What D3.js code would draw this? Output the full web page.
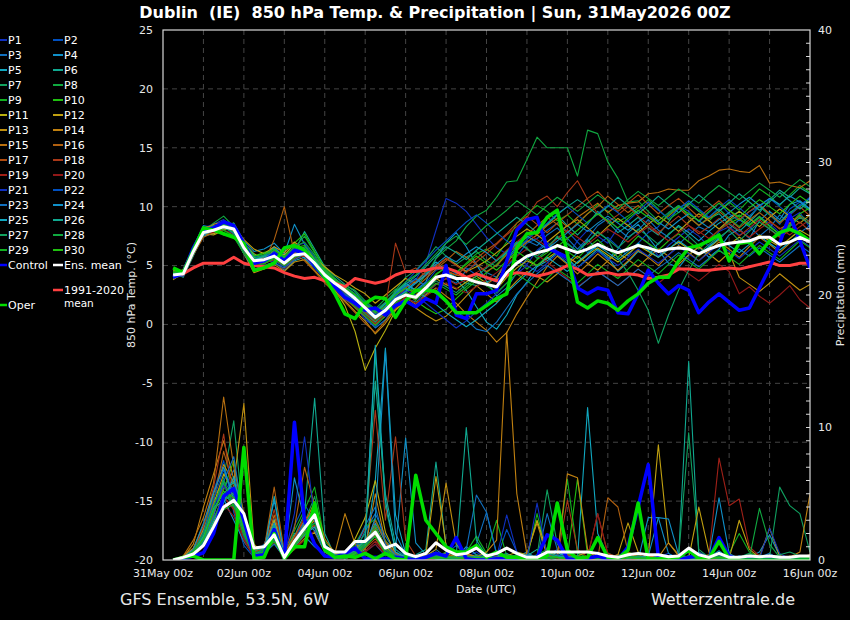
<!DOCTYPE html>
<html>
<head>
<meta charset="utf-8">
<script src="https://cdn.jsdelivr.net/npm/d3@7"></script>
<style>
  body { margin: 0; background: #000; }
  svg { display: block; font-family: "DejaVu Sans", sans-serif; }
</style>
</head>
<body>
<div id="chart"></div>
<script>
// forecast steps in hours after 31May2026 00Z (6-hourly, +6h .. +384h)
const hours = d3.range(6, 385, 6)
const xTickHours = [0, 48, 96, 144, 192, 240, 288, 336, 384]
const xTickLabels = ['31May 00z', '02Jun 00z', '04Jun 00z', '06Jun 00z', '08Jun 00z', '10Jun 00z', '12Jun 00z', '14Jun 00z', '16Jun 00z']
const tempTicks = [-20, -15, -10, -5, 0, 5, 10, 15, 20, 25]
const precipTicks = [0, 10, 20, 30, 40]

const memberNames = d3.range(1, 31).map(i => 'P' + i)
const memberColors = ['#1030c0', '#0050c0', '#1070c0', '#1090c8', '#10a8c0', '#10a890', '#10a060', '#10a840', '#10b020', '#20c010',
                      '#b8b010', '#c0a010', '#c09010', '#c08010', '#b87010', '#b06010', '#b04c10', '#a83818', '#a02018', '#901818']

const meanTemp = [4.2,4.3,6.2,7.8,8.0,8.3,8.1,6.5, 5.4,5.5,5.8,5.2,5.9,6.0,5.2,4.2, 3.5,2.9,2.2,1.4,0.6,1.2,2.1,2.5, 2.3,3.1,4.0,4.2,3.9,3.9,3.6,3.4,
                  3.2,4.4,5.2,5.8,6.1,6.3,6.7,6.4, 6.1,6.4,6.8,6.4,6.1,6.4,6.7,6.5, 6.2,6.4,6.5,6.4,6.0,6.4,6.7,6.9, 7.0,7.1,7.4,7.4,6.8,7.0,7.4,7.0]
const climTemp = [4.1,4.3,4.8,5.2,5.2,5.2,5.7,5.2, 5.0,4.9,4.8,4.4,4.1,3.9,4.0,3.7, 3.5,3.2,3.9,3.7,3.5,3.7,4.2,4.5, 4.5,4.6,4.8,4.8,4.5,4.0,4.3,4.0,
                  3.7,4.2,4.4,4.3,4.1,4.3,4.6,5.0, 4.7,4.2,4.3,4.4,4.2,4.3,4.2,3.9, 4.0,4.2,4.7,4.7,4.6,4.6,4.7,4.8, 4.7,4.9,5.1,5.3,5.0,5.0,5.2,5.2]
const controlTemp = [4.0,4.4,6.5,8.0,8.2,8.7,8.4,6.9, 5.2,5.4,6.0,5.4,6.3,6.1,5.0,4.0, 3.2,2.3,1.8,1.2,1.4,0.8,1.6,2.0, 1.5,2.2,1.8,5.0,0.8,0.5,2.6,2.6,
                     2.9,5.4,8.0,8.9,9.1,6.5,6.1,5.7, 3.1,2.6,3.1,2.9,1.0,0.9,2.6,4.6, 3.5,2.6,3.3,2.9,1.0,1.9,2.6,1.9, 1.2,1.4,3.1,4.8,6.9,9.3,7.1,4.8]
const operTemp = [4.8,4.4,6.3,8.2,8.0,7.7,7.4,6.9, 4.6,4.8,5.2,6.5,6.7,6.3,5.2,4.0, 2.6,0.9,0.5,1.8,2.3,2.2,0.6,2.0, 2.9,2.9,2.8,2.0,1.0,1.0,1.0,1.6,
                  2.2,2.6,6.5,7.7,7.8,9.1,9.7,6.0, 1.9,1.4,2.0,1.8,1.2,2.0,2.6,3.5, 4.0,4.0,5.4,6.5,6.7,7.1,7.6,5.4, 6.9,7.0,6.0,7.1,7.8,8.1,7.7,7.1]

const meanPrecip = [0,0.2,0.45,1.1,2.5,4.0,4.5,3.5, 0.9,1.0,1.9,0.2,1.4,2.4,3.4,1.0, 0.6,0.6,1.4,1.4,2.1,0.9,1.2,0.5, 0.25,0.5,1.3,0.75,0.4,0.5,0.9,0.3,
                    0.5,0.9,0.5,0.2,0.2,0.6,0.6,0.6, 0.6,0.6,0.5,0.3,0.2,0.4,0.5,0.4, 0.4,0.25,0.3,0.9,0.4,0.2,0.5,0.2, 0.2,0.3,0.25,0.3,0.2,0.2,0.3,0.3]
const controlPrecip = [0,0.1,0.3,0.55,2.0,4.8,5.4,3.0, 0.3,0.4,2.3,0.1,10.4,3.0,1.2,0.3, 0.2,0.5,0.9,0.1,0.2,0.1,0.2,0.1, 0,0.2,0.5,0.3,1.7,0.1,0,0,
                       0.1,0.1,0,0.1,0.2,1.9,1.5,0.1, 0,0.1,0.3,0.1,0,1.0,4.0,7.2, 0.2,0,0,0.2,0.3,0.1,1.7,0.3, 0,0.1,0,0.1,0,0.1,0,0]
const operPrecip = [0,0.2,0.3,0,0,0,0,8.5, 0.1,0.2,2.0,0.1,1.0,1.0,4.3,0.75, 0.2,0.3,0.2,0.5,0.1,0.5,0.1,0, 6.4,3.0,2.0,1.0,0.6,0.6,1.1,0.2,
                    0.6,0.2,0.2,0,0.1,0.3,4.3,0.75, 0.1,0.2,1.7,0.2,0.1,0.75,4.3,0, 0.1,0.1,0.2,0.75,0.1,0.1,1.4,0.1, 0,0,0,0,0,0,0,0]

// 850 hPa temperature of the 30 perturbed members (P1..P30)
const memberTemp = [
  [4.0,4.5,6.4,8.2,8.5,8.9,8.3,6.2, 5.0,5.4,6.1,5.5,6.4,6.2,5.0,4.0, 3.0,2.1,1.6,0.4,-0.2,0.8,2.4,3.5, 3.8,5.2,8.0,10.7,10.3,9.6,8.5,7.4, 6.5,6.0,5.4,5.1,6.3,7.0,6.2,5.8, 7.1,8.0,7.5,6.9,8.2,8.8,7.6,6.9, 5.8,6.7,7.4,8.1,7.5,6.6,7.9,8.3, 7.6,8.0,9.1,8.6,7.8,9.0,9.5,8.2],
  [4.3,4.1,5.9,7.6,7.9,8.0,8.4,6.9, 5.8,5.3,5.4,4.9,5.6,6.5,5.6,4.6, 3.9,3.2,2.6,1.9,1.2,1.9,2.6,3.0, 2.8,3.5,4.6,4.9,4.3,4.8,4.2,3.9, 3.6,4.9,5.8,6.9,7.3,8.0,8.6,7.9, 7.0,6.1,6.8,7.4,6.6,5.8,6.9,7.8, 8.3,9.4,10.1,9.6,8.7,9.5,10.3,9.4, 8.8,9.6,10.0,9.3,8.5,9.8,10.4,9.6],
  [4.5,4.6,6.6,8.4,8.2,8.6,7.9,6.0, 4.8,5.9,6.6,5.7,6.3,5.6,4.8,3.9, 3.2,2.4,1.5,0.6,-0.3,0.4,1.6,2.2, 1.9,2.6,3.4,3.9,3.5,4.6,5.1,4.4, 4.0,5.4,6.5,7.1,6.7,7.6,8.2,7.3, 6.4,7.3,8.4,9.0,8.1,7.4,8.0,8.9, 8.0,7.4,6.8,7.6,8.3,7.9,7.2,8.1, 8.9,8.3,7.5,8.2,9.3,8.6,7.8,8.4],
  [3.9,4.2,6.0,7.5,7.7,8.1,8.6,7.1, 6.2,6.4,6.9,6.0,8.5,6.8,5.5,4.4, 3.6,2.7,1.8,1.0,0.2,1.3,2.6,3.3, 2.9,3.6,5.6,6.9,7.8,6.6,5.1,3.7, 2.4,3.1,4.4,5.6,6.2,6.8,5.9,5.2, 6.1,7.2,6.3,5.5,6.4,7.8,8.5,7.4, 6.3,5.2,4.8,5.9,6.6,5.7,6.4,7.6, 8.1,7.3,8.8,9.6,8.9,10.2,10.5,9.8],
  [4.1,4.4,6.3,7.9,8.3,8.4,7.8,6.3, 5.3,5.0,5.3,4.6,5.4,5.7,4.9,3.8, 3.1,2.3,1.9,1.2,0.3,0.9,1.8,2.9, 3.6,4.4,5.3,4.6,3.8,2.9,1.5,0.2, -0.4,0.8,2.5,3.6,4.9,5.4,6.1,5.6, 4.8,5.6,6.4,5.7,4.5,5.3,6.2,5.8, 6.9,7.6,8.4,7.8,7.1,7.9,8.6,9.1, 9.6,9.0,10.1,9.4,8.7,9.5,10.0,10.7],
  [4.4,4.0,5.8,7.7,8.2,8.1,8.0,6.7, 5.7,5.2,5.6,5.0,6.2,7.9,6.4,4.9, 4.1,3.4,2.8,1.7,1.1,1.8,2.3,2.7, 2.1,2.9,3.8,4.5,4.0,3.5,3.3,3.6, 3.9,5.5,6.7,7.4,7.9,8.5,9.3,8.4, 7.6,8.5,9.6,8.7,7.8,8.4,9.1,8.2, 7.6,8.7,9.9,10.3,9.6,9.0,9.4,8.5, 7.9,8.7,9.5,10.6,11.4,10.8,11.6,11.1],
  [4.0,4.4,6.5,8.1,7.8,8.3,8.5,6.8, 5.9,5.6,5.9,5.3,6.0,6.6,5.8,4.5, 3.7,3.0,2.4,1.6,0.9,1.5,2.9,4.0, 4.6,5.5,6.6,5.8,5.1,5.7,6.2,5.4, 4.9,6.2,7.0,6.5,5.6,6.3,7.5,6.9, 6.2,7.0,7.9,7.2,6.5,7.3,8.1,7.5, 6.8,7.7,8.3,7.5,6.7,7.2,8.0,8.8, 9.3,8.5,9.2,8.4,7.6,8.4,9.3,8.7],
  [4.2,4.3,6.1,7.9,8.6,9.2,8.3,6.4, 5.5,5.8,6.2,5.6,6.5,7.5,6.1,4.7, 3.8,3.3,2.9,2.0,1.3,2.2,3.0,2.8, 3.1,4.2,5.6,6.4,7.1,8.3,9.2,9.7, 10.8,12.1,12.2,14.0,15.9,15.0,15.0,15.0, 12.6,16.5,16.2,13.8,12.4,10.4,10.5,9.6, 8.8,9.5,10.1,9.2,8.4,9.1,9.8,9.0, 8.3,9.2,10.0,9.3,8.6,9.4,10.2,9.7],
  [4.6,4.2,6.0,7.6,8.1,7.6,7.4,6.1, 4.6,5.1,5.7,5.3,6.6,5.9,5.1,4.3, 3.3,2.5,1.7,0.9,0.0,1.0,2.0,2.6, 2.4,3.3,4.3,4.8,4.4,5.2,6.0,6.4, 5.8,7.0,8.6,9.4,10.1,9.6,8.8,9.3, 8.5,9.4,10.2,9.6,8.7,9.2,9.9,10.6, 9.8,8.9,9.5,10.3,9.7,8.8,9.6,10.4, 9.7,10.6,11.5,10.9,10.1,11.0,11.8,11.2],
  [4.3,4.5,6.4,7.9,8.3,8.0,7.6,6.6, 5.8,6.1,6.4,5.8,6.9,7.7,6.2,4.8, 3.9,3.1,2.2,1.4,0.4,1.2,2.1,2.8, 2.0,1.4,0.9,1.3,2.2,3.0,3.7,4.4, 5.1,6.0,5.4,4.7,5.5,6.1,6.8,6.2, 5.6,6.5,7.2,6.4,5.7,6.6,7.5,6.9, 6.3,7.1,7.7,7.0,6.4,7.2,8.0,8.6, 9.0,8.4,9.1,8.3,7.7,8.5,9.4,9.9],
  [4.1,4.7,6.6,8.0,7.7,8.1,8.2,6.9, 6.0,5.5,6.3,5.9,6.8,6.4,5.2,4.0, 2.9,1.6,-0.6,-3.9,-2.0,-0.5,1.2,2.0, 2.5,3.2,3.9,3.4,3.0,3.6,4.1,3.5, 3.0,4.0,4.8,5.4,5.0,5.6,6.2,5.7, 5.2,5.9,6.5,5.9,5.3,6.0,6.7,6.2, 5.7,6.4,7.0,6.4,5.8,6.5,7.2,6.8, 7.4,6.9,7.6,7.1,6.6,7.3,8.0,7.5],
  [4.5,4.2,6.1,7.7,7.6,8.0,8.3,7.2, 6.4,6.0,6.6,6.1,7.0,6.3,5.6,4.9, 4.2,3.7,3.1,2.6,1.8,2.5,3.2,3.9, 3.5,4.2,4.9,5.6,5.1,4.5,4.9,5.4, 6.1,6.8,7.5,8.1,7.6,7.0,7.7,8.4, 8.9,8.2,7.5,8.3,9.0,8.4,7.8,8.5, 9.2,8.6,7.9,8.7,9.4,8.8,8.1,8.9, 9.6,9.0,8.3,9.1,9.8,9.2,8.6,9.3],
  [3.8,4.4,6.2,7.8,8.5,8.7,7.9,6.0, 4.4,4.7,5.1,4.5,5.3,5.5,4.6,3.7, 2.8,2.0,1.1,0.3,-0.8,0.1,1.3,2.0, 1.4,0.8,0.3,0.7,1.5,2.4,3.3,2.6, 1.9,2.8,3.7,4.5,4.1,3.6,4.3,5.1, 5.8,5.2,4.6,5.4,6.1,5.5,4.9,5.7, 6.4,5.8,5.1,5.9,6.6,6.0,5.3,6.1, 4.0,3.4,2.8,3.5,4.3,3.6,2.9,3.4],
  [4.6,4.5,6.4,8.2,8.4,8.5,8.4,6.6, 5.4,5.7,6.0,5.4,6.1,6.3,5.4,4.2, 3.4,2.7,1.9,1.1,0.1,0.7,1.6,2.3, 1.7,2.5,3.1,2.4,1.8,0.9,0.2,-0.5, -1.5,-0.7,0.9,2.3,3.6,4.9,5.8,5.1, 4.3,5.1,6.0,5.3,4.6,5.4,6.3,5.7, 5.0,5.9,6.7,6.1,5.4,6.2,7.0,6.4, 5.7,6.6,7.4,6.8,6.1,6.9,7.7,7.1],
  [4.0,4.3,6.0,7.6,7.9,8.2,8.0,6.4, 5.1,5.6,5.9,5.1,5.8,6.1,5.3,4.1, 3.4,2.8,2.1,1.3,0.5,1.1,2.0,2.6, 2.2,3.0,3.8,4.5,4.2,4.0,3.7,3.4, 4.0,5.2,6.3,7.0,7.6,8.4,9.0,8.3, 9.1,9.7,10.3,9.5,10.1,10.3,10.4,11.1, 11.2,11.5,11.4,11.4,12.2,12.6,13.1,13.2, 13.0,12.9,13.5,12.0,12.1,11.8,11.6,12.2],
  [4.4,4.1,5.9,7.4,7.8,8.3,8.1,6.1, 4.9,5.3,7.2,10.0,6.0,5.4,4.5,3.5, 2.7,1.9,1.0,0.1,-0.7,0.3,1.4,2.4, 3.1,3.9,4.7,5.4,6.2,5.7,5.1,4.5, 5.0,5.9,6.8,7.6,8.4,9.1,8.5,7.8, 8.6,9.4,10.0,10.9,10.2,9.5,10.1,9.3, 8.5,9.2,9.9,9.1,8.4,9.0,9.6,8.9, 8.2,8.9,9.5,8.8,8.1,8.6,9.2,8.5],
  [4.2,4.6,6.5,8.0,8.1,8.4,8.2,6.7, 5.6,5.4,5.7,5.0,5.8,5.8,4.9,3.9, 3.0,2.2,1.4,0.7,0.0,0.9,2.2,3.1, 3.7,4.5,5.1,4.6,4.2,4.9,5.6,6.3, 6.9,7.7,8.6,9.2,8.5,7.8,8.6,9.3, 10.0,10.7,11.3,10.4,9.6,10.3,11.0,10.2, 9.4,10.1,10.7,9.9,9.1,9.8,10.5,9.7, 8.9,9.6,10.2,9.4,8.6,9.3,10.0,9.2],
  [4.5,4.4,6.2,7.7,8.0,8.5,8.2,6.4, 5.4,5.2,5.5,5.0,5.6,6.2,5.3,4.1, 3.5,2.9,2.3,1.6,0.8,1.5,6.9,4.4, 4.8,4.1,4.9,5.6,5.0,4.4,5.3,6.0, 6.8,7.6,8.3,9.1,10.4,10.9,10.0,11.2, 12.2,10.6,9.4,8.7,9.3,10.0,9.2,8.5, 7.8,8.5,9.2,8.4,7.7,8.3,9.0,8.2, 7.5,8.2,8.9,8.1,7.4,8.0,8.7,7.9],
  [4.1,4.3,6.0,7.8,8.2,8.6,8.0,6.2, 5.0,5.5,5.8,5.3,6.0,5.8,5.0,4.0, 3.3,2.6,1.8,1.0,0.3,1.0,1.9,2.5, 2.1,2.7,3.4,3.9,3.4,3.8,4.4,4.9, 5.5,6.3,7.0,7.7,7.2,6.6,7.3,8.0, 7.4,6.8,7.5,8.1,7.6,7.0,7.7,8.3, 7.7,7.1,7.8,8.4,7.9,7.3,8.0,8.6, 8.0,7.4,8.1,8.7,8.2,7.6,8.3,8.9],
  [4.3,4.2,6.3,7.9,7.8,8.0,7.7,6.3, 5.2,5.0,5.2,4.7,5.5,5.9,5.1,4.0, 3.2,2.4,1.6,0.8,0.1,0.8,1.7,2.3, 1.8,2.4,3.0,3.5,3.1,2.7,3.2,3.8, 4.4,5.1,5.8,6.4,5.9,5.3,4.6,3.9, 3.2,3.8,4.5,3.9,3.3,4.0,4.7,4.1, 3.5,4.2,4.9,4.3,3.7,4.4,5.1,4.5, 2.6,3.2,2.4,1.8,2.5,3.3,2.1,1.4],
  [4.2,4.1,6.0,7.7,8.3,8.8,8.1,6.4, 5.3,5.6,6.2,5.5,6.7,6.9,5.7,4.4, 3.5,3.0,2.4,1.8,1.0,1.7,2.3,2.9, 2.5,1.8,1.1,0.4,-0.3,0.3,1.1,1.8, 2.6,3.5,4.3,5.0,4.5,5.2,6.0,5.4, 4.8,5.5,6.2,5.6,5.0,5.7,6.4,5.8, 5.2,5.9,6.6,6.0,5.4,6.1,6.8,6.2, 5.6,6.3,7.0,6.4,5.8,6.5,7.2,6.6],
  [4.0,4.2,6.1,7.8,8.1,8.2,8.4,6.8, 5.7,5.9,6.0,5.4,6.2,6.0,5.1,4.2, 3.3,2.6,2.0,1.5,0.8,1.4,2.6,3.6, 4.5,5.4,6.3,7.1,7.9,8.7,9.3,8.6, 7.8,7.1,6.4,7.2,7.9,8.6,9.4,10.0, 9.3,8.6,9.4,10.1,9.5,8.8,9.6,10.4, 9.7,9.0,9.8,10.5,9.8,9.1,9.9,10.6, 9.9,9.2,10.0,10.7,10.0,9.3,10.1,10.8],
  [4.3,4.6,6.4,8.1,8.3,8.3,7.7,6.0, 4.7,4.9,5.2,4.8,5.5,6.0,5.2,4.0, 3.1,2.5,2.0,1.2,0.5,1.2,2.4,3.2, 3.9,3.2,2.6,1.9,1.2,0.4,-0.4,-0.6, 0.2,1.4,2.6,3.5,4.3,5.0,4.4,3.8, 3.1,3.8,4.5,3.9,3.3,4.0,4.7,4.1, 4.8,5.4,6.1,5.5,4.9,5.6,6.3,5.7, 6.4,5.8,6.5,5.9,5.3,6.0,6.7,6.1],
  [4.4,4.3,6.2,7.6,8.0,8.4,8.0,6.5, 5.5,5.8,6.5,5.7,6.2,6.4,5.4,4.3, 3.4,2.8,2.1,1.3,0.6,1.3,2.2,2.8, 3.5,4.2,5.1,5.8,5.3,6.0,6.6,6.1, 5.4,6.1,6.9,7.5,7.0,6.4,7.1,7.8, 8.5,7.9,8.6,9.2,8.6,8.0,8.7,9.3, 8.7,8.1,8.8,9.4,8.8,8.2,8.9,9.5, 10.2,10.8,10.1,10.7,10.2,10.9,10.4,9.8],
  [4.2,4.5,6.4,8.0,8.2,8.7,8.2,6.7, 5.7,5.5,5.8,5.2,5.9,6.3,5.5,4.3, 3.6,3.0,2.4,1.7,1.0,1.8,2.8,3.5, 2.9,2.3,1.7,1.0,0.4,-0.2,0.4,1.1, 1.8,2.7,3.5,4.3,5.0,5.7,5.1,4.5, 5.3,6.0,6.7,6.1,5.5,6.2,6.9,6.3, 5.7,6.4,7.1,6.5,5.9,6.6,7.3,6.7, 6.1,6.8,7.5,6.9,6.3,7.0,7.7,7.1],
  [4.3,4.2,6.0,7.7,8.0,8.3,8.6,6.9, 5.9,5.7,6.1,5.4,6.4,6.1,5.3,4.4, 3.6,3.0,2.2,1.4,0.7,1.5,2.7,3.4, 4.1,4.9,5.8,6.6,6.1,5.5,6.3,7.0, 7.7,8.4,9.1,8.5,7.8,8.5,9.3,10.0, 10.6,10.0,9.3,10.0,10.8,10.1,9.4,10.1, 10.9,10.2,9.5,10.2,11.0,10.3,9.6,10.3, 11.1,10.4,9.7,10.4,11.2,10.5,9.8,10.5],
  [4.1,4.5,6.3,7.9,8.4,8.2,7.8,6.2, 5.1,5.3,5.7,5.1,5.8,6.2,5.2,4.1, 3.2,2.5,1.7,0.9,0.2,1.0,2.0,2.7, 2.3,3.0,3.7,3.2,2.7,3.4,4.1,4.8, 5.4,6.2,7.0,6.4,5.8,6.6,7.4,6.8, 6.2,7.0,7.8,7.2,5.6,4.4,2.9,1.2, -1.6,0.8,2.9,4.6,6.0,6.8,7.4,8.0, 7.1,7.9,8.7,8.1,7.5,8.3,9.1,8.5],
  [4.5,4.3,6.1,7.8,8.1,8.5,8.3,6.6, 5.6,5.9,6.3,5.8,6.6,7.0,5.9,4.6, 3.8,3.2,2.6,1.8,1.1,1.9,2.8,3.6, 4.2,5.1,6.0,6.9,7.5,6.8,7.6,8.4, 9.0,9.7,10.5,9.9,9.3,10.1,10.8,10.2, 9.6,10.3,11.0,10.4,9.8,10.6,11.3,10.7, 10.1,10.8,11.5,10.9,10.3,11.1,11.8,11.2, 10.6,11.3,12.0,11.4,10.8,11.6,12.3,11.7],
  [4.0,4.4,6.2,8.0,8.2,8.0,7.5,6.0, 4.9,5.2,5.6,5.0,5.7,6.0,5.0,3.9, 3.0,2.3,1.5,0.7,-0.1,0.7,1.8,2.5, 2.1,2.8,3.5,3.0,2.5,3.2,3.9,3.3, 2.7,3.5,4.3,3.7,3.1,3.9,4.7,4.1, 3.5,4.3,5.1,4.5,3.9,4.7,5.5,4.9, 4.3,5.1,5.9,5.3,4.7,5.5,6.3,5.7, 5.1,5.9,6.7,6.1,5.5,6.3,7.1,6.5],
  [4.4,4.6,6.5,8.3,8.0,8.4,8.6,6.8, 5.8,6.0,6.4,5.7,6.5,6.7,5.6,4.5, 3.7,3.1,2.5,1.7,1.0,1.6,2.5,3.1, 2.7,3.4,4.2,4.9,4.4,5.1,5.8,5.2, 4.6,5.4,6.2,5.6,5.0,5.8,6.6,7.3, 8.0,8.7,9.4,8.8,8.2,9.0,9.7,9.1, 8.5,9.3,10.0,9.4,8.8,9.6,10.3,9.7, 9.1,9.9,10.6,10.0,9.4,10.2,10.9,10.3]
]

// 6-hourly precipitation of the 30 perturbed members (mm)
const memberPrecip = [
  [0,0.1,0.4,1.2,3.5,6.0,4.8,2.0, 0.3,0.8,2.2,0.2,1.5,3.0,2.4,0.6, 0.3,0.1,0.8,1.6,2.5,0.9,0.4,0.2, 0,0.1,0.3,0.1,0,0.2,0.6,0.1, 0,0.2,0.1,0,0,0.3,0.8,0.2, 0,0,0.1,0.4,0.2,0,0.1,0, 0.2,0.5,0.1,0,0,0.3,0.1,0, 0,0.1,0,0,0.2,0.1,0,0],
  [0,0.2,0.6,2.0,5.2,7.5,3.6,1.1, 0.2,0.5,1.4,0.1,2.6,4.2,2.9,0.8, 0.2,0.4,1.5,0.6,1.2,0.3,0.8,0.3, 0.1,0,0,0.4,1.1,0.3,0,0, 0.1,2.3,0.6,0,0.1,0.2,0.4,0.1, 0,0.2,0.6,0.1,0,0,0.2,0.1, 0,0,0.3,0.8,0.2,0,0,0.1, 0.3,0.1,0,0,0,0.2,0.1,0],
  [0,0.1,0.5,1.8,4.5,5.4,6.8,2.5, 0.5,1.2,3.1,0.3,0.9,2.1,3.6,0.9, 0.4,0.2,0.6,2.2,3.5,1.8,0.6,0.1, 0,0.3,0.8,0.2,0.1,0.5,1.2,3.6, 0.4,0.1,0,0.2,0.1,3.5,0.8,0.1, 0,0.1,0.3,0.2,0.1,0.2,0.1,0, 0.3,0.1,0,0.2,0.6,0.2,0.1,0, 0,0,0.2,0.5,0.1,0,0.3,0.1],
  [0,0.2,0.8,2.4,3.8,4.6,3.0,1.4, 0.3,0.9,4.5,0.4,2.0,1.8,1.0,0.4, 0.1,0.3,0.4,1.1,2.8,1.4,0.8,9.2, 1.3,0.4,0.1,0,0.2,1.0,0.4,0.2, 0.1,0,0.2,0.6,0.1,0,0.3,0.5, 0.2,0,0.1,0.3,0.1,0,0,3.2, 3.2,0.5,0.1,0,0,0.2,0.7,0.1, 0,0.2,0.6,1.9,0.3,0,0,0.1],
  [0,0.1,0.3,1.0,2.6,4.4,5.1,3.2, 0.4,0.6,1.8,0.2,1.1,2.6,4.0,1.2, 0.5,0.2,0.3,0.8,6.0,16.0,3.4,0.5, 0.2,0.1,0.4,0.1,0,0.3,0.1,0, 0.2,0.5,0.1,0,0.1,0.2,0.6,0.1, 0.1,11.5,2.0,0.3,0.1,0,0.1,0.2, 0,0.1,0.2,0.6,0.1,0,0.2,0.1, 0.3,0.1,0,0.2,0.1,0,0.2,0.1],
  [0,0.2,0.5,1.4,3.0,5.0,4.2,2.3, 0.6,1.0,2.4,0.3,1.8,3.5,12.2,2.0, 0.3,0.1,0.6,1.0,1.8,0.5,0.2,0.1, 0.4,0.8,7.4,1.0,0.2,0.1,0.3,0.5, 0.1,0,0.1,0.3,0.8,0.2,0,0.1, 0.2,0.1,0,0.1,0.4,0.2,0.1,0, 0,0.3,0.2,15.0,0.4,0.1,0,0.2, 0.1,0,0.3,0.1,0,0.2,0.1,0],
  [0,0.1,0.4,1.6,4.0,6.2,10.5,2.7, 0.2,0.7,2.0,0.2,1.3,2.8,4.8,1.0, 0.2,0.3,0.9,2.0,15.5,4.0,0.8,0.2, 0.1,0.2,0.5,0.3,0.1,0.2,0.4,0.1, 0,0.2,0.4,0.1,0.3,5.3,1.2,0.2, 0.1,0,0.2,0.5,0.2,0.1,0,0.3, 0.1,0,0.2,9.6,0.8,0.2,0.1,0, 0.2,0.1,0.4,0.2,5.5,4.1,3.5,0.6],
  [0,0.2,0.6,2.2,4.8,5.8,3.9,1.6, 0.3,1.1,2.7,0.4,1.0,2.0,3.1,0.9, 0.4,0.2,0.5,1.3,2.2,1.0,0.5,0.1, 0,0.1,0.2,0.6,0.3,0.2,0.1,0, 0,0.1,0.2,0.1,0.4,0.8,0.2,0.1, 0,0,0.1,0.2,0.1,0,0,0.1, 0.1,0.2,0,0.1,0.3,0.1,0,0, 0,0.1,0.2,0,0.1,0,0,0.1],
  [0,0.1,0.3,1.3,3.2,4.5,5.6,2.0, 0.4,0.8,1.5,0.1,2.2,3.8,5.5,1.4, 0.6,0.3,1.2,2.5,3.1,1.5,0.3,0.2, 0.1,0,0.3,0.1,0.4,0.6,1.8,0.5, 3.0,0.3,0.1,0,3.5,0.4,0.2,6.1, 0.5,0.2,0,0.1,0.2,0.6,0.3,0.1, 0,0.1,0.4,0.2,0,0.1,0.3,0.5, 2.0,0.6,0.2,0.1,0,0.2,0.1,0],
  [0,0.2,0.5,1.7,3.6,5.3,7.5,3.0, 0.5,0.6,2.5,0.3,1.4,2.5,3.3,0.8, 0.3,0.1,0.4,0.9,2.0,0.7,0.2,0.1, 0,0.2,0.1,0,0.3,0.1,0.2,0.1, 0.2,0.1,0,0.3,0.1,0.2,0.4,0.2, 6.1,0.4,0.1,0,0.2,0.1,0,0, 0.2,0.1,0,0.1,0.2,0.4,0.1,0, 0,0.2,0.1,0,0.3,0.1,0,0],
  [0,0.1,0.4,1.1,2.8,3.9,4.4,2.6, 0.6,0.9,3.0,0.5,1.2,2.0,2.6,0.7, 0.2,0.5,1.6,3.2,6.0,2.1,0.5,0.2, 0,0.1,0.2,0.5,0.2,0.1,0.3,0.1, 0.2,0.3,0.6,0.4,3.0,0.6,0.2,0.1, 0,0.1,0.3,0.1,0.2,0.5,0.3,0.1, 0.2,0.3,0.1,0,0.2,0.1,0.3,0.2, 0.1,0,0.2,0.1,0,0.3,0.1,0],
  [0,0.2,0.7,2.3,4.2,6.5,5.2,2.2, 0.4,0.7,1.9,0.2,0.8,1.6,2.1,0.6, 0.5,0.3,0.8,1.5,2.6,1.0,0.3,0.1, 0.2,0.4,6.3,1.1,0.3,0.5,0.2,0.1, 0.1,0.4,0.2,0.1,0.3,0.2,0.1,0.4, 0.3,0.6,0.2,0.1,0.4,2.8,0.6,0.2, 8.7,1.3,0.3,0.1,4.0,0.6,0.2,0.1, 3.0,0.8,0.2,2.4,0.3,0.1,0.2,0.4],
  [0,0.3,0.9,2.6,5.0,7.2,5.8,11.8, 1.2,0.4,1.6,0.3,1.0,2.2,3.0,0.8, 0.4,0.2,0.5,1.1,1.9,0.6,0.2,0.1, 0.1,0.3,0.8,5.8,1.2,0.4,0.1,0.2, 0.3,0.2,0.1,0.5,2.8,0.3,0.1,0.2, 0.1,0,0.2,0.3,0.1,0.2,0.4,0.1, 0.2,0.1,0,0.2,0.3,0.1,0,0.2, 0.1,0.3,0.1,0,0.2,0.1,0,0.1],
  [0,0.2,1.2,4.0,6.5,9.0,6.1,2.8, 0.8,0.5,2.1,0.4,1.5,2.7,4.4,1.6, 0.5,3.5,1.2,0.8,5.0,1.3,0.4,0.2, 0.1,0.2,0.4,0.2,0.3,0.5,0.2,0.6, 1.5,17.2,5.0,0.4,0.2,0.6,0.3,6.5, 6.2,0.8,0.3,0.1,0.2,0.4,0.1,0.3, 0.2,1.3,0.4,0.2,0.3,0.1,0.2,0.1, 0,0.2,0.1,0.3,0.1,0.2,0.6,5.0],
  [0,0.3,1.5,3.2,5.8,12.3,7.0,3.5, 0.9,0.6,3.4,0.5,1.8,3.0,3.8,1.1, 0.3,0.2,0.7,1.4,2.4,0.8,0.3,0.1, 0,0.1,0.3,0.1,0.2,0.4,0.1,0, 0.1,0.3,0.2,0.1,0.2,0.3,0.1,0, 0.2,0.1,0,0.2,0.4,0.1,0.2,0.3, 0.1,0,0.2,0.1,0,0.2,0.3,0.1, 0.2,0.1,0,0.1,0.3,0.2,0.1,0],
  [0,0.2,0.8,2.0,4.4,8.2,5.5,2.4, 0.6,0.8,5.5,0.6,2.4,7.0,4.1,1.0, 0.4,0.3,0.6,1.2,3.0,1.4,0.5,0.2, 0.1,0,0.2,0.4,0.1,0.3,0.2,0.1, 0.2,0.1,0.3,0.2,0.1,0.4,0.2,0.1, 0.3,0.2,0.1,4.7,4.0,0.6,0.2,0.1, 0,0.2,0.1,0.3,0.2,0.1,0,0.2, 0.1,0,0.2,0.1,0,0.1,0.2,0.3],
  [0,0.1,0.6,1.5,3.4,5.6,4.5,1.9, 0.4,0.7,2.3,0.2,1.1,2.4,3.2,0.9, 0.3,0.1,0.4,0.9,1.6,0.5,0.2,0.1, 0.2,0.4,0.3,0.1,0.2,0.1,0.3,0.2, 0.1,0.2,0.1,0.3,0.2,0.1,0.2,0.4, 0.2,0.1,0.3,0.2,0.1,0.2,0.1,0, 0.1,0.2,0.3,0.1,0.2,0.4,0.2,0.1, 0,0.2,0.1,0.3,0.1,0,0.2,0.1],
  [0,0.2,0.7,2.5,5.5,9.5,4.0,2.1, 0.5,1.0,3.8,0.4,1.6,3.3,2.5,0.7, 0.2,0.3,1.0,2.4,11.3,3.0,9.3,1.5, 0.3,0.2,0.1,0.4,0.2,0.1,0.3,0.1, 0.2,0.1,0.2,0.1,0.3,0.2,0.1,4.5, 0.8,0.2,3.5,0.5,0.2,0.1,0.3,0.2, 0.1,0.2,0.4,0.1,0.2,0.1,0.3,0.2, 0.1,0.2,0,0.1,0.3,0.1,0.2,0],
  [0,0.1,0.4,1.4,3.0,4.8,3.8,1.7, 0.3,0.6,1.7,0.2,0.9,1.8,2.6,0.8, 0.2,0.1,0.3,0.7,1.4,0.5,0.2,0.1, 0,0.1,0.2,0.1,0.3,0.2,0.1,0, 0.1,0.2,0.1,0,0.2,0.1,0.3,0.1, 0.2,0.1,0.3,0.2,0.1,0.2,0.1,0.1, 0.2,0.1,0.3,0.2,0.1,0.3,7.7,4.1, 4.6,1.0,0.3,0.1,0.2,0.1,0,0.1],
  [0,0.1,0.3,1.0,2.4,4.2,3.3,1.5, 0.2,0.5,1.3,0.1,0.8,1.5,2.2,0.6, 0.1,0.2,0.4,0.6,1.2,0.4,0.1,0, 0.1,0,0.1,0.2,0.1,0,0.2,0.1, 0,0.1,0.2,0.1,0,0.2,0.1,0, 0.1,0.3,3.5,0.4,0.1,0,0.1,0.2, 0.1,0,0.1,0.2,0.1,0,0.2,0.1, 0,0.1,0.2,0.1,0,0.1,0.2,0],
  [0,0.1,0.5,1.9,4.0,5.6,4.4,2.2, 0.4,0.8,2.0,0.3,3.5,9.3,3.0,0.9, 0.3,0.2,0.5,1.1,2.0,0.7,0.3,0.1, 0.1,0.2,0.1,0.3,0.2,0.1,0.2,0.4, 0.2,3.4,0.6,0.1,4.3,0.3,0.2,0.1, 0,0.1,0.2,0.3,0.1,0.2,0.1,0, 0.2,0.1,0,0.2,0.1,0.3,0.4,0.1, 0,0.2,0.1,2.4,0.5,0.1,0,0.1],
  [0,0.2,0.6,2.1,4.6,6.8,5.0,1.8, 0.5,0.7,1.6,0.2,1.2,2.3,2.8,0.7, 0.2,0.3,0.6,1.3,2.3,0.8,0.3,0.1, 0,0.1,0.3,0.2,0.1,0.2,0.1,0, 0.1,0.2,0.1,0.3,0.1,0.2,0.4,0.2, 0.1,0.2,0.1,0,0.1,0.2,0.1,0.1, 0.3,0.2,0.1,0,0.2,0.1,0.3,0.1, 0,0.1,0.2,0,0.1,0.2,0.1,0],
  [0,0.1,0.5,1.5,3.3,5.9,7.8,2.9, 0.6,0.5,1.2,0.2,1.4,2.9,3.4,1.1, 0.4,0.2,0.9,2.6,4.0,1.2,0.4,0.2, 0.1,0.3,0.6,0.2,0.1,0.8,4.9,3.6, 0.5,0.2,0.1,0.2,0.3,0.1,0.2,0.3, 0.1,0.2,0.1,0.3,0.2,0.1,0.2,0.1, 0,0.2,0.1,0.3,0.2,0.1,0.1,0.2, 0.1,0,0.2,0.1,0.3,0.1,0,0.2],
  [0,0.2,0.8,2.8,5.1,7.0,4.6,2.0, 0.3,0.9,2.8,0.3,6.2,3.0,2.2,0.6, 0.2,0.1,0.4,1.0,3.2,15.8,2.0,0.4, 0.1,0.3,0.2,0.1,0.2,0.3,0.1,0.2, 0.1,0.2,0.3,0.4,0.2,0.5,0.3,0.2, 0.3,0.1,0.2,0.1,0.3,0.2,0.1,0.3, 3.2,3.1,0.4,0.2,0.1,0.2,4.7,0.5, 0.1,0.2,0.3,0.1,0.2,0.1,0.3,0.1],
  [0,0.1,0.4,1.3,2.9,4.3,6.3,2.4, 0.4,0.6,4.8,0.2,1.0,1.9,2.5,0.8, 0.2,0.1,0.5,1.5,16.2,4.5,0.6,0.2, 0.1,0.2,0.1,0,0.2,0.1,0.3,0.1, 0.2,0.1,0,0.2,0.1,0.3,0.2,0.1, 0.1,0.2,0.1,0.2,0.1,0.3,0.2,0.1, 0.2,0.1,0.3,0.2,0.1,0.2,0.1,0, 0.1,0.2,0.1,0.3,0.2,0.1,0,0.2],
  [0,0.2,0.6,1.8,3.9,5.0,5.9,3.3, 0.7,0.9,2.6,0.3,1.3,2.6,3.9,1.0, 0.4,0.2,0.7,1.6,13.5,5.0,1.2,0.3, 0.1,0.2,0.4,0.1,0.3,10.0,1.5,0.3, 0.1,0.2,0.1,0.3,0.2,0.1,0.3,0.2, 0.1,0.2,0.3,0.1,0.2,0.1,0.3,0.2, 0.1,0.3,0.2,0.1,0.2,0.3,0.1,0.2, 0.1,0.3,0.2,0.1,0.2,0.1,0.3,0.1],
  [0,0.1,0.5,1.4,3.1,4.6,5.0,2.5, 0.3,0.7,1.8,0.3,1.1,2.2,3.6,0.8, 0.3,0.2,0.6,1.2,2.1,0.6,0.2,0.1, 0.2,0.1,0.3,0.2,0.1,0.3,0.2,0.1, 0.2,0.4,0.2,0.1,0.3,0.6,0.2,0.1, 0.2,0.1,0.3,0.2,0.1,0.2,0.3,0.1, 0.2,0.1,0.2,0.3,0.1,0.2,0.1,0.3, 0.2,0.5,0.1,0.2,0.4,0.6,0.3,0.1],
  [0,0.2,0.7,2.0,4.1,6.0,4.1,1.9, 0.5,0.8,2.2,0.4,1.5,2.4,3.3,0.9, 0.3,0.2,0.6,1.4,2.6,0.9,0.3,0.2, 0.1,0.2,0.3,0.1,0.2,0.1,0.2,0.3, 0.1,0.2,0.3,0.1,0.2,0.1,0.2,0.1, 0.3,0.2,0.1,0.2,0.1,0.3,0.2,0.1, 0.2,0.1,0.3,0.2,0.1,0.2,0.3,0.1, 0.2,0.1,3.9,1.2,0.2,0.1,0.2,0.1],
  [0,0.1,0.3,1.1,2.7,3.8,4.2,2.0, 0.3,0.5,1.4,0.2,1.0,2.0,2.8,0.7, 0.2,0.1,0.4,1.0,1.8,0.5,0.2,0.1, 0,0.1,0.2,0.1,0,0.2,0.1,0, 0.1,0.2,0.1,0,0.2,0.1,0.2,0.1, 0,0.1,0.2,0.1,0,0.2,0.1,0, 0.1,0,0.2,0.1,0,0.1,0.2,0.1, 0,0.1,0.2,0,0.1,0.2,0.1,0],
  [0,0.2,0.6,1.6,3.7,5.2,4.7,2.3, 0.4,0.6,2.1,0.3,1.2,2.3,3.4,0.9, 0.3,0.2,0.5,1.2,2.3,0.8,0.2,0.1, 0.1,0.2,0.1,0.3,0.2,0.1,0.2,0.1, 0.2,0.1,0.3,0.2,0.1,0.3,0.2,0.1, 0.2,0.1,0.3,0.2,0.1,0.2,0.1,0.2, 0.1,0.2,0.1,0.3,0.2,0.1,0.2,0.1, 0.2,0.1,0.3,0.2,0.1,0.2,0.1,0.2]
]

const width = 850
const height = 620
const plot = {left: 163, right: 810, top: 30, bottom: 560}
const labelColor = '#e8e8e8'

const svg = d3.select('#chart')
    .append('svg')
    .attr('width', width)
    .attr('height', height)

svg.append('rect')
    .attr('width', width)
    .attr('height', height)
    .attr('fill', '#000')

const x = d3.scaleLinear()
    .domain([0, 384])
    .range([plot.left, plot.right])
const yT = d3.scaleLinear()
    .domain([-20, 25])
    .range([plot.bottom, plot.top])
const yP = d3.scaleLinear()
    .domain([0, 40])
    .range([plot.bottom, plot.top])

svg.append('clipPath')
    .attr('id', 'plot-clip')
  .append('rect')
    .attr('x', plot.left)
    .attr('y', plot.top)
    .attr('width', plot.right - plot.left)
    .attr('height', plot.bottom - plot.top)

// dashed grid
const grid = svg.append('g')
    .attr('stroke', '#444')
    .attr('stroke-width', 1)
    .attr('stroke-dasharray', '5,4')
grid.selectAll('.hgrid')
    .data(tempTicks.filter(t => t > -20 && t < 25))
    .join('line')
    .attr('x1', plot.left)
    .attr('x2', plot.right)
    .attr('y1', d => yT(d))
    .attr('y2', d => yT(d))
grid.selectAll('.vgrid')
    .data(d3.range(24, 384, 24))
    .join('line')
    .attr('x1', d => x(d))
    .attr('x2', d => x(d))
    .attr('y1', plot.top)
    .attr('y2', plot.bottom)

const tempLine = d3.line()
    .x((d, i) => x(hours[i]))
    .y(d => yT(d))
const precipLine = d3.line()
    .x((d, i) => x(hours[i]))
    .y(d => yP(d))

const lines = svg.append('g')
    .attr('clip-path', 'url(#plot-clip)')
    .attr('fill', 'none')
    .attr('stroke-linejoin', 'round')

lines.selectAll('.member-t')
    .data(memberTemp)
    .join('path')
    .attr('d', d => tempLine(d))
    .attr('stroke', (d, i) => memberColors[i % 20])
    .attr('stroke-width', 1.1)
lines.selectAll('.member-p')
    .data(memberPrecip)
    .join('path')
    .attr('d', d => precipLine(d))
    .attr('stroke', (d, i) => memberColors[i % 20])
    .attr('stroke-width', 1.1)

const mainSeries = [
    {values: climTemp, line: tempLine, color: '#ff4040', w: 3},
    {values: controlTemp, line: tempLine, color: '#0000ff', w: 3.5},
    {values: controlPrecip, line: precipLine, color: '#0000ff', w: 3.5},
    {values: operTemp, line: tempLine, color: '#00dd00', w: 3.5},
    {values: operPrecip, line: precipLine, color: '#00dd00', w: 3.5},
    {values: meanTemp, line: tempLine, color: '#ffffff', w: 3},
    {values: meanPrecip, line: precipLine, color: '#ffffff', w: 3}
]
lines.selectAll('.main')
    .data(mainSeries)
    .join('path')
    .attr('d', d => d.line(d.values))
    .attr('stroke', d => d.color)
    .attr('stroke-width', d => d.w)

// frame
svg.append('rect')
    .attr('x', plot.left)
    .attr('y', plot.top)
    .attr('width', plot.right - plot.left)
    .attr('height', plot.bottom - plot.top)
    .attr('fill', 'none')
    .attr('stroke', '#d8d8d8')
    .attr('stroke-width', 1.2)

// left axis labels
svg.append('g')
    .selectAll('text')
    .data(tempTicks)
    .join('text')
    .attr('x', plot.left - 10)
    .attr('y', d => yT(d))
    .attr('dy', '0.35em')
    .attr('text-anchor', 'end')
    .attr('font-size', 11)
    .attr('fill', labelColor)
    .text(d => d)

// right axis: minor ticks every mm, labels every 10
svg.append('g')
    .selectAll('line')
    .data(d3.range(1, 40))
    .join('line')
    .attr('x1', plot.right - 4)
    .attr('x2', plot.right)
    .attr('y1', d => yP(d))
    .attr('y2', d => yP(d))
    .attr('stroke', '#d8d8d8')
svg.append('g')
    .selectAll('text')
    .data(precipTicks)
    .join('text')
    .attr('x', plot.right + 8)
    .attr('y', d => yP(d))
    .attr('dy', '0.35em')
    .attr('font-size', 11)
    .attr('fill', labelColor)
    .text(d => d)

// bottom axis labels
svg.append('g')
    .selectAll('text')
    .data(xTickHours)
    .join('text')
    .attr('x', d => x(d))
    .attr('y', plot.bottom + 17)
    .attr('text-anchor', 'middle')
    .attr('font-size', 11)
    .attr('fill', labelColor)
    .text((d, i) => xTickLabels[i])

svg.append('text')
    .attr('x', 486)
    .attr('y', 593)
    .attr('text-anchor', 'middle')
    .attr('font-size', 11)
    .attr('fill', labelColor)
    .text('Date (UTC)')

svg.append('text')
    .attr('transform', `translate(135,${(plot.top + plot.bottom) / 2}) rotate(-90)`)
    .attr('text-anchor', 'middle')
    .attr('font-size', 11)
    .attr('fill', labelColor)
    .text('850 hPa Temp. (°C)')

svg.append('text')
    .attr('transform', `translate(844,${(plot.top + plot.bottom) / 2}) rotate(-90)`)
    .attr('text-anchor', 'middle')
    .attr('font-size', 11)
    .attr('fill', labelColor)
    .text('Precipitation (mm)')

svg.append('text')
    .attr('x', 435)
    .attr('y', 18)
    .attr('text-anchor', 'middle')
    .attr('font-size', 16)
    .attr('font-weight', 'bold')
    .attr('fill', '#fff')
    .style('white-space', 'pre')
    .text('Dublin  (IE)  850 hPa Temp. & Precipitation | Sun, 31May2026 00Z')

svg.append('text')
    .attr('x', 120)
    .attr('y', 605)
    .attr('font-size', 16)
    .attr('fill', '#e8e8e8')
    .text('GFS Ensemble, 53.5N, 6W')

svg.append('text')
    .attr('x', 795)
    .attr('y', 605)
    .attr('text-anchor', 'end')
    .attr('font-size', 16)
    .attr('fill', '#e8e8e8')
    .text('Wetterzentrale.de')

// legend
const legendItems = memberNames.map((name, i) => ({
    label: name, color: memberColors[i % 20], col: i % 2, y: 40 + Math.floor(i / 2) * 15, w: 2
}))
legendItems.push({label: 'Control', color: '#0000ff', col: 0, y: 265, w: 2.5})
legendItems.push({label: 'Ens. mean', color: '#ffffff', col: 1, y: 265, w: 2.5})
legendItems.push({label: '1991-2020', color: '#ff4040', col: 1, y: 290, w: 2.5})
legendItems.push({label: 'Oper', color: '#00dd00', col: 0, y: 305, w: 2.5})

const legend = svg.append('g')
    .selectAll('g')
    .data(legendItems)
    .join('g')
    .attr('transform', d => `translate(${d.col === 0 ? 0 : 53},${d.y})`)
legend.append('line')
    .attr('x1', d => d.col === 0 ? -2 : 0)
    .attr('x2', d => d.col === 0 ? 7 : 10)
    .attr('stroke', d => d.color)
    .attr('stroke-width', d => d.w)
legend.append('text')
    .attr('x', d => d.col === 0 ? 8 : 11)
    .attr('dy', '0.35em')
    .attr('font-size', 11)
    .attr('fill', '#fff')
    .text(d => d.label)

// second line of the climate entry
svg.append('text')
    .attr('x', 64)
    .attr('y', 303)
    .attr('dy', '0.35em')
    .attr('font-size', 10.5)
    .attr('fill', '#fff')
    .text('mean')
</script>
</body>
</html>
